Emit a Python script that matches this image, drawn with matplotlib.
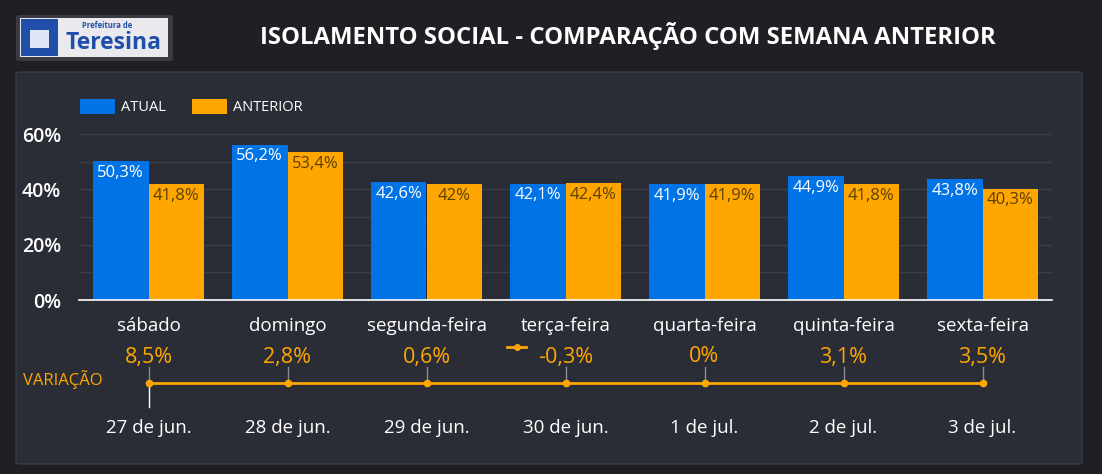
import numpy as np
import matplotlib
matplotlib.use("Agg")
import matplotlib.pyplot as plt
from matplotlib.patches import FancyBboxPatch, Rectangle

# dados
dias = ["sábado", "domingo", "segunda-feira", "terça-feira",
        "quarta-feira", "quinta-feira", "sexta-feira"]
datas = ["27 de jun.", "28 de jun.", "29 de jun.", "30 de jun.",
         "1 de jul.", "2 de jul.", "3 de jul."]
atual = [50.3, 56.2, 42.6, 42.1, 41.9, 44.9, 43.8]
anterior = [41.8, 53.4, 42.0, 42.4, 41.9, 41.8, 40.3]
variacao = [8.5, 2.8, 0.6, -0.3, 0.0, 3.1, 3.5]
yticks = [0, 20, 40, 60]

W, H = 1102, 474
BG = "#1f2024"
PANEL = "#2b2d36"
BLUE = "#0073e6"
ORANGE = "#ffa600"
FONT = ["Open Sans", "DejaVu Sans"]

plt.rcParams["font.family"] = FONT


def fx(x):
    return x / W


def fy(y):
    return 1 - y / H


def fmt(v):
    s = f"{v:.1f}".replace(".", ",")
    if s.endswith(",0"):
        s = s[:-2]
    return s + "%"


fig = plt.figure(figsize=(W / 100, H / 100), dpi=100, facecolor=BG)


def addpatch(p):
    p.set_zorder(-10)
    p.set_transform(fig.transFigure)
    fig.patches.append(p)


# painel e logo
addpatch(FancyBboxPatch((fx(16), fy(464)), fx(1066), 392 / H,
                        boxstyle="round,pad=0,rounding_size=0.004",
                        facecolor=PANEL, edgecolor="#3a3c46", lw=1))
addpatch(FancyBboxPatch((fx(16), fy(61)), fx(157), 46 / H,
                        boxstyle="round,pad=0,rounding_size=0.004",
                        facecolor="#3a3b42", edgecolor="none"))
addpatch(Rectangle((fx(20), fy(57)), fx(148), 39 / H,
                   facecolor="#e9e9ee", edgecolor="none"))
addpatch(Rectangle((fx(21), fy(56)), fx(37), 37 / H,
                   facecolor="#1f4fa8", edgecolor="none"))
addpatch(Rectangle((fx(30), fy(48)), fx(19), 18 / H,
                   facecolor="#dfe6f5", edgecolor="none"))
fig.text(fx(107), fy(26), "Prefeitura de", color="#1f4fa8", fontsize=5.5,
         fontweight="bold", ha="center", va="center")
fig.text(fx(113), fy(43), "Teresina", color="#1f4fa8", fontsize=16.5,
         fontweight="bold", ha="center", va="center")

fig.text(fx(628), fy(36), "ISOLAMENTO SOCIAL - COMPARAÇÃO COM SEMANA ANTERIOR",
         color="white", fontsize=17.2, fontweight="bold", ha="center",
         va="center")

# barras
ax = fig.add_axes([fx(79), fy(300), fx(1052 - 79), (300 - 134) / H])
ax.set_facecolor("none")
x = np.arange(len(dias))
w = 0.4
b1 = ax.bar(x - w / 2, atual, w, color=BLUE, label="ATUAL")
b2 = ax.bar(x + w / 2, anterior, w, color=ORANGE, label="ANTERIOR")
for r, v in zip(b1, atual):
    ax.text(r.get_x() + r.get_width() / 2, v - 1.4, fmt(v), color="white",
            fontsize=12, ha="center", va="top")
for r, v in zip(b2, anterior):
    ax.text(r.get_x() + r.get_width() / 2, v - 1.4, fmt(v), color="#5a4000",
            fontsize=12, ha="center", va="top")

ax.set_xlim(-0.5, len(dias) - 0.5)
ax.set_ylim(0, 60)
ax.set_yticks(yticks)
ax.set_yticklabels([f"{t}%" for t in yticks], color="white", fontsize=14,
                   fontweight="semibold")
ax.set_yticks(np.arange(0, 61, 10), minor=True)
ax.yaxis.grid(True, which="both", color="#3c3e48", lw=1)
ax.set_axisbelow(True)
ax.set_xticks(x)
ax.set_xticklabels(dias, color="white", fontsize=13.5, fontweight="medium")
ax.tick_params(length=0, pad=12)
ax.tick_params(axis="y", which="minor", length=0)
ax.tick_params(axis="y", pad=13)
for s in ["top", "right", "left"]:
    ax.spines[s].set_visible(False)
ax.spines["bottom"].set_color("white")
ax.spines["bottom"].set_linewidth(1.2)

leg = fig.legend(handles=[b1, b2], loc="center left",
                 bbox_to_anchor=(fx(67), fy(107)), ncol=2, frameon=False,
                 fontsize=10.5, labelcolor="white", handlelength=2.4,
                 handleheight=1.3, columnspacing=1.8, handletextpad=0.4)

# linha de variação
ax2 = fig.add_axes([fx(79), fy(440), fx(1052 - 79), (440 - 340) / H])
ax2.set_facecolor("none")
ax2.set_xlim(-0.5, len(dias) - 0.5)
ax2.set_ylim(0, 100)
ax2.axis("off")
yl = 100 - (383 - 340)
ax2.plot(x, np.full(len(x), yl), color=ORANGE, lw=2, marker="o", ms=4.5)
for i, v in enumerate(variacao):
    ax2.plot([i, i], [yl + 2, yl + 16], color="#8a8c94", lw=1, zorder=0)
    ax2.text(i, 100 - (357 - 340), fmt(v), color=ORANGE, fontsize=15.5,
             ha="center", va="center")
    ax2.text(i, 100 - (428 - 340), datas[i], color="white", fontsize=13.5,
             fontweight="medium", ha="center", va="center")
ax2.plot([0, 0], [yl, yl - 24], color="white", lw=1, zorder=0)
fig.text(fx(23), fy(380), "VARIAÇÃO", color=ORANGE, fontsize=12,
         ha="left", va="center")
fig.lines.append(plt.Line2D([fx(507), fx(526)], [fy(347), fy(347)],
                            transform=fig.transFigure, color=ORANGE, lw=2))
fig.lines.append(plt.Line2D([fx(516.5)], [fy(347)], transform=fig.transFigure,
                            color=ORANGE, marker="o", ms=4))

fig.savefig("out.png", dpi=100, facecolor=BG)
